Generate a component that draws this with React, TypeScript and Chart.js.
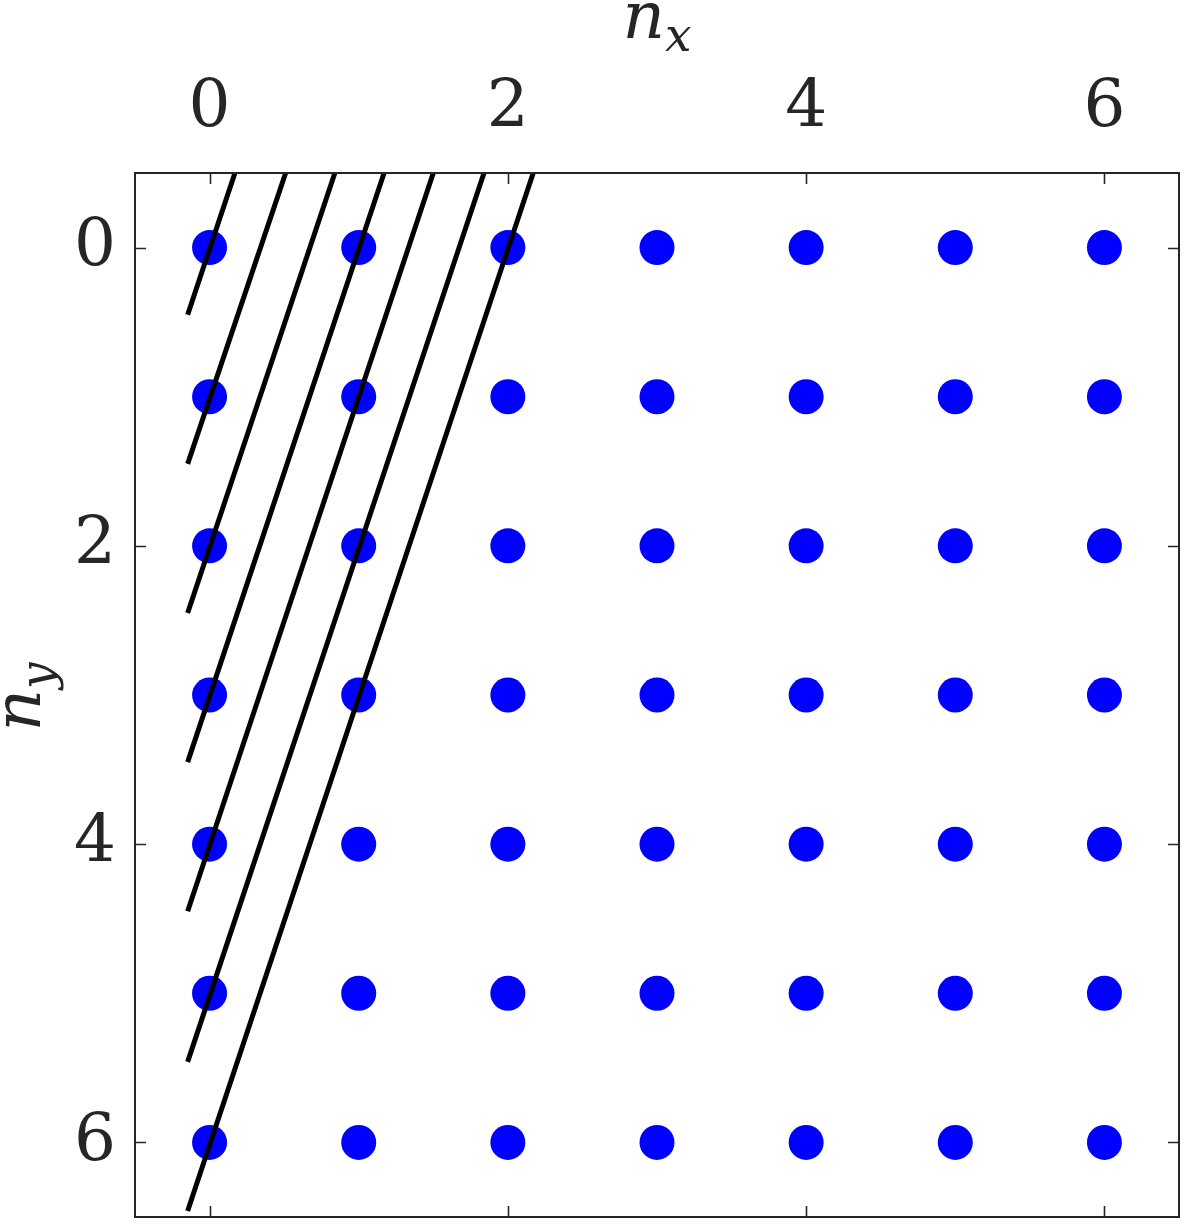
import { useEffect, useRef } from 'react';
import { Chart, registerables } from 'chart.js';

Chart.register(...registerables);

// Lattice of states
const nxValues = [0, 1, 2, 3, 4, 5, 6];
const nyValues = [0, 1, 2, 3, 4, 5, 6];

// Tick labels
const axisTickValues = [0, 2, 4, 6];
const axisMin = -0.5;
const axisMax = 6.5;

// Black lines (start at lower-left, end at top edge)
const lineStartX = [-0.147, -0.147, -0.147, -0.147, -0.147, -0.147, -0.147];
const lineStartY = [0.45, 1.45, 2.45, 3.45, 4.45, 5.46, 6.46];
const lineEndX = [0.17, 0.51, 0.84, 1.17, 1.5, 1.84, 2.17];
const lineEndY = [-0.5, -0.5, -0.5, -0.5, -0.5, -0.5, -0.5];

const FONT = '"DejaVu Serif", serif';
const TEXT = '#262626';
const W = 1184;
const H = 1224;

const frameAndTicks = {
  id: 'frameAndTicks',
  afterDraw(chart: any) {
    const { ctx, chartArea } = chart;
    const xs = chart.scales.x;
    const ys = chart.scales.y;
    const len = 11;
    ctx.save();
    ctx.strokeStyle = TEXT;
    ctx.lineWidth = 2;
    ctx.strokeRect(chartArea.left, chartArea.top, chartArea.right - chartArea.left, chartArea.bottom - chartArea.top);
    ctx.lineWidth = 1.6;
    ctx.beginPath();
    axisTickValues.forEach((v) => {
      const px = Math.round(xs.getPixelForValue(v)) + 0.5;
      ctx.moveTo(px, chartArea.top);
      ctx.lineTo(px, chartArea.top + len);
      ctx.moveTo(px, chartArea.bottom);
      ctx.lineTo(px, chartArea.bottom - len);
      const py = Math.round(ys.getPixelForValue(v)) + 0.5;
      ctx.moveTo(chartArea.left, py);
      ctx.lineTo(chartArea.left + len, py);
      ctx.moveTo(chartArea.right, py);
      ctx.lineTo(chartArea.right - len, py);
    });
    ctx.stroke();
    ctx.restore();
  },
};

const axisTitles = {
  id: 'axisTitles',
  afterDraw(chart: any) {
    const { ctx, chartArea } = chart;
    const mainFont = `italic 66px ${FONT}`;
    const subFont = `italic 47px ${FONT}`;
    ctx.save();
    ctx.fillStyle = TEXT;
    ctx.textBaseline = 'alphabetic';
    ctx.textAlign = 'left';

    // n_x on top
    ctx.font = mainFont;
    const wn = ctx.measureText('n').width;
    ctx.font = subFont;
    const wx = ctx.measureText('x').width;
    const cx = (chartArea.left + chartArea.right) / 2;
    let sx = cx - (wn + wx) / 2;
    ctx.font = mainFont;
    ctx.fillText('n', sx, 38);
    ctx.font = subFont;
    ctx.fillText('x', sx + wn, 51);

    // n_y on left, rotated
    ctx.font = subFont;
    const wy = ctx.measureText('y').width;
    const cy = (chartArea.top + chartArea.bottom) / 2 + 2;
    ctx.translate(40, cy);
    ctx.rotate(-Math.PI / 2);
    sx = -(wn + wy) / 2;
    ctx.font = mainFont;
    ctx.fillText('n', sx, 0);
    ctx.font = subFont;
    ctx.fillText('y', sx + wn, 13);
    ctx.restore();
  },
};

const zeroPad = (s: any) => {
  s.paddingTop = 0;
  s.paddingBottom = 0;
  s.paddingLeft = 0;
  s.paddingRight = 0;
};

export default function App() {
  const ref = useRef<HTMLCanvasElement | null>(null);

  useEffect(() => {
    document.documentElement.style.overflow = 'hidden';
    document.body.style.margin = '0';
    if (!ref.current) return;
    const dots: { x: number; y: number }[] = [];
    nyValues.forEach((y) => nxValues.forEach((x) => dots.push({ x, y })));

    const lineSets = lineStartY.map((_, i) => ({
      type: 'scatter' as const,
      label: `line ${i}`,
      data: [
        { x: lineStartX[i], y: lineStartY[i] },
        { x: lineEndX[i], y: lineEndY[i] },
      ],
      showLine: true,
      borderColor: '#000000',
      borderWidth: 5,
      pointRadius: 0,
      pointHoverRadius: 0,
      order: 0,
    }));

    const chart = new Chart(ref.current, {
      type: 'scatter',
      data: {
        datasets: [
          ...lineSets,
          {
            label: 'states',
            data: dots,
            backgroundColor: '#0000ff',
            borderWidth: 0,
            pointRadius: 17.5,
            pointHoverRadius: 17.5,
            order: 1,
          } as any,
        ],
      },
      options: {
        responsive: false,
        animation: false,
        devicePixelRatio: 1,
        layout: { autoPadding: false, padding: { left: 0, top: 0, right: 5, bottom: 7 } },
        plugins: {
          legend: { display: false },
          tooltip: { enabled: false },
          title: { display: false },
        },
        scales: {
          x: {
            type: 'linear',
            min: axisMin,
            max: axisMax,
            position: 'top',
            grid: { display: false, drawTicks: false },
            border: { display: false },
            ticks: {
              font: { family: FONT, size: 66 },
              color: TEXT,
              padding: 25,
              maxRotation: 0,
            },
            afterBuildTicks: (s: any) => {
              s.ticks = axisTickValues.map((v) => ({ value: v }));
            },
            afterFit: (s: any) => {
              s.height = 173;
              zeroPad(s);
            },
          },
          y: {
            type: 'linear',
            min: axisMin,
            max: axisMax,
            position: 'left',
            reverse: true,
            grid: { display: false, drawTicks: false },
            border: { display: false },
            ticks: {
              font: { family: FONT, size: 66 },
              color: TEXT,
              padding: 19,
            },
            afterBuildTicks: (s: any) => {
              s.ticks = axisTickValues.map((v) => ({ value: v }));
            },
            afterFit: (s: any) => {
              s.width = 135;
              zeroPad(s);
            },
          },
        } as any,
      },
      plugins: [frameAndTicks, axisTitles],
    });
    return () => chart.destroy();
  }, []);

  return (
    <div style={{ position: 'fixed', left: 0, top: 0, width: W, height: H, overflow: 'hidden', background: '#ffffff' }}>
      <canvas ref={ref} width={W} height={H} style={{ display: 'block', width: W, height: H }} />
    </div>
  );
}
